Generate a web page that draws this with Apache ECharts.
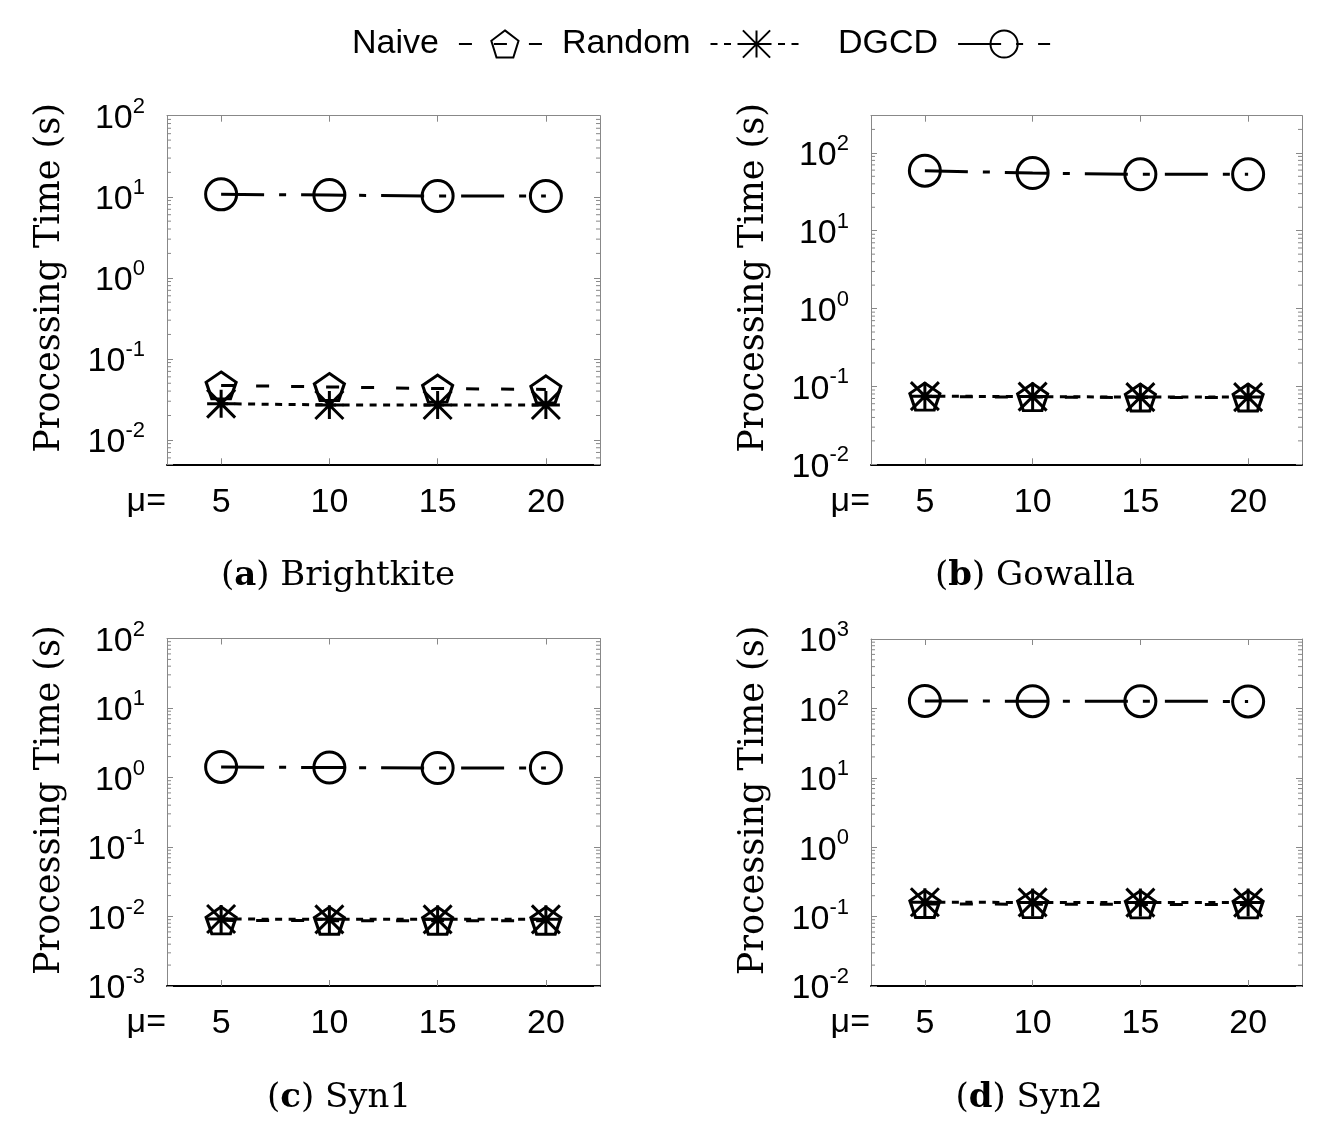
<!DOCTYPE html>
<html>
<head>
<meta charset="utf-8">
<script src="https://cdn.jsdelivr.net/npm/echarts@6/dist/echarts.min.js"></script>
<style>
html,body{margin:0;padding:0;background:#fff;}
#chart{width:1328px;height:1142px;}
</style>
</head>
<body>
<div id="chart"></div>
<script>
// ---- data ----
const muValues = ['5', '10', '15', '20'];
const seriesNames = ['Naive', 'Random', 'DGCD'];

const brightkiteNaive  = [0.047, 0.045, 0.043, 0.042];
const brightkiteRandom = [0.028, 0.027, 0.027, 0.027];
const brightkiteDGCD   = [10.7, 10.5, 10.2, 10.2];

const gowallaNaive  = [0.074, 0.073, 0.072, 0.072];
const gowallaRandom = [0.075, 0.074, 0.073, 0.073];
const gowallaDGCD   = [59, 55, 53, 53];

const syn1Naive  = [0.0088, 0.0087, 0.0087, 0.0087];
const syn1Random = [0.0092, 0.0091, 0.0091, 0.0091];
const syn1DGCD   = [1.42, 1.39, 1.37, 1.37];

const syn2Naive  = [0.152, 0.151, 0.150, 0.150];
const syn2Random = [0.161, 0.160, 0.159, 0.159];
const syn2DGCD   = [128, 127, 127, 126];

const panelLetters = ['a', 'b', 'c', 'd'];
const panelNames = ['Brightkite', 'Gowalla', 'Syn1', 'Syn2'];
const yRanges = [[0.005, 100], [0.01, 300], [0.001, 100], [0.01, 1000]];
const yTitle = 'Processing Time (s)';
const xPrefix = 'μ=';

// ---- layout / style ----
const SANS = 'Liberation Sans';
const SERIF = 'DejaVu Serif';
const grids = [
  {left: 167, top: 115.7, width: 433, height: 348.6},
  {left: 871, top: 115.7, width: 431, height: 348.6},
  {left: 167, top: 638.5, width: 433, height: 347.5},
  {left: 871, top: 639, width: 431, height: 347}
];
const captionPos = [[338, 576], [1035, 576], [339, 1098], [1029, 1098]];
const panelData = [
  [brightkiteNaive, brightkiteRandom, brightkiteDGCD],
  [gowallaNaive, gowallaRandom, gowallaDGCD],
  [syn1Naive, syn1Random, syn1DGCD],
  [syn2Naive, syn2Random, syn2DGCD]
];

const PENTAGON = 'path://M0,-1 L0.951,-0.309 L0.588,0.809 L-0.588,0.809 L-0.951,-0.309 Z';
const ASTERISK = 'path://M-1,0 L1,0 M0,-1 L0,1 M-1,-1 L1,1 M-1,1 L1,-1';
const seriesStyle = {
  Naive:  {symbol: PENTAGON, symbolSize: [30, 27], dash: [13, 22]},
  Random: {symbol: ASTERISK, symbolSize: [28, 28], dash: [7, 6.5]},
  DGCD:   {symbol: 'circle', symbolSize: 31, dash: [43, 15, 7, 15]}
};

function powLabel(v) {
  const l = Math.log10(v);
  const e = Math.round(l);
  if (Math.abs(l - e) > 1e-6) return '';
  return '{b|10}{s|' + e + '}';
}

function renderMinor(params, api) {
  const y = api.coord([0, api.value(1)])[1];
  const cs = params.coordSys;
  const st = {stroke: '#888', lineWidth: 1};
  return {type: 'group', children: [
    {type: 'line', shape: {x1: cs.x, y1: y, x2: cs.x + 4, y2: y}, style: st},
    {type: 'line', shape: {x1: cs.x + cs.width - 4, y1: y, x2: cs.x + cs.width, y2: y}, style: st}
  ]};
}
function minorTickValues(min, max) {
  const out = [];
  for (let e = Math.floor(Math.log10(min)); e <= Math.ceil(Math.log10(max)); e++) {
    for (let k = 2; k <= 9; k++) {
      const v = k * Math.pow(10, e);
      if (v > min * 1.0001 && v < max * 0.9999) out.push([0, v]);
    }
  }
  return out;
}

const option = {
  animation: false,
  backgroundColor: '#fff',
  grid: [], xAxis: [], yAxis: [], series: [],
  legend: [],
  graphic: []
};

const legendLefts = [347, 557, 833];
seriesNames.forEach((n, i) => {
  option.legend.push({
    data: [n], left: legendLefts[i], top: 22, align: 'right',
    itemWidth: 92, itemHeight: 34, selectedMode: false,
    textStyle: {fontSize: 34, fontFamily: SANS, color: '#000', padding: [0, 15, 0, 0]}
  });
});

const grayLine = {show: true, lineStyle: {color: '#888', width: 1}};
const tickIn = {show: true, inside: true, length: 6, alignWithLabel: true, lineStyle: {color: '#888', width: 1}};

grids.forEach((g, i) => {
  option.grid.push(Object.assign({containLabel: false, outerBoundsMode: 'none'}, g));
  const [ymin, ymax] = yRanges[i];
  // bottom x
  option.xAxis.push({
    type: 'category', gridIndex: i, position: 'bottom', data: muValues, boundaryGap: true,
    axisLine: {show: true, lineStyle: {color: '#000', width: 2}},
    axisTick: tickIn,
    axisLabel: {fontSize: 34, fontFamily: SANS, color: '#000', margin: 21},
    splitLine: {show: false}
  });
  // top x
  option.xAxis.push({
    type: 'category', gridIndex: i, position: 'top', data: muValues, boundaryGap: true,
    axisLine: grayLine, axisTick: tickIn, axisLabel: {show: false}, splitLine: {show: false}
  });
  // left y
  option.yAxis.push({
    type: 'log', logBase: 10, gridIndex: i, position: 'left', min: ymin, max: ymax,
    axisLine: grayLine, axisTick: tickIn, splitLine: {show: false}, minorTick: {show: false},
    axisLabel: {
      formatter: powLabel, margin: 22, showMinLabel: true, showMaxLabel: true,
      rich: {
        b: {fontSize: 34, fontFamily: SANS, color: '#000', lineHeight: 40, verticalAlign: 'bottom'},
        s: {fontSize: 22, fontFamily: SANS, color: '#000', lineHeight: 22, verticalAlign: 'top'}
      }
    },
    name: yTitle, nameLocation: 'middle', nameGap: 100, nameMoveOverlap: false,
    nameTextStyle: {fontSize: 35, fontFamily: SERIF, color: '#000', padding: [0, 0, 0, 24]}
  });
  // right y
  option.yAxis.push({
    type: 'log', logBase: 10, gridIndex: i, position: 'right', min: ymin, max: ymax,
    axisLine: grayLine, axisTick: tickIn, axisLabel: {show: false}, splitLine: {show: false}
  });

  // minor ticks
  option.series.push({
    type: 'custom', xAxisIndex: 2 * i, yAxisIndex: 2 * i, silent: true, z: 1,
    renderItem: renderMinor, data: minorTickValues(ymin, ymax), clip: false,
    tooltip: {show: false}
  });

  seriesNames.forEach((n, k) => {
    const st = seriesStyle[n];
    option.series.push({
      name: n, type: 'line', xAxisIndex: 2 * i, yAxisIndex: 2 * i,
      data: panelData[i][k],
      symbol: st.symbol, symbolSize: st.symbolSize, showAllSymbol: true,
      lineStyle: {color: '#000', width: 3, type: st.dash},
      itemStyle: {color: 'rgba(0,0,0,0)', borderColor: '#000', borderWidth: 3},
      emphasis: {disabled: true}, z: 3 + k
    });
  });

  // "μ=" prefix left of the x tick labels
  option.graphic.push({
    type: 'text', x: g.left - 1, y: g.top + g.height + 37,
    style: {text: xPrefix, align: 'right', verticalAlign: 'middle', fontSize: 34, fontFamily: SANS, fill: '#000'}
  });

  option.graphic.push({
    type: 'text', x: captionPos[i][0], y: captionPos[i][1],
    style: {
      text: '({b|' + panelLetters[i] + '}) ' + panelNames[i],
      align: 'center', verticalAlign: 'middle',
      fontSize: 34, fontFamily: SERIF, fill: '#000',
      rich: {b: {fontSize: 34, fontFamily: SERIF, fontWeight: 'bold', fill: '#000'}}
    }
  });
});

const chart = echarts.init(document.getElementById('chart'), null, {renderer: 'canvas'});
chart.setOption(option);
</script>
</body>
</html>
